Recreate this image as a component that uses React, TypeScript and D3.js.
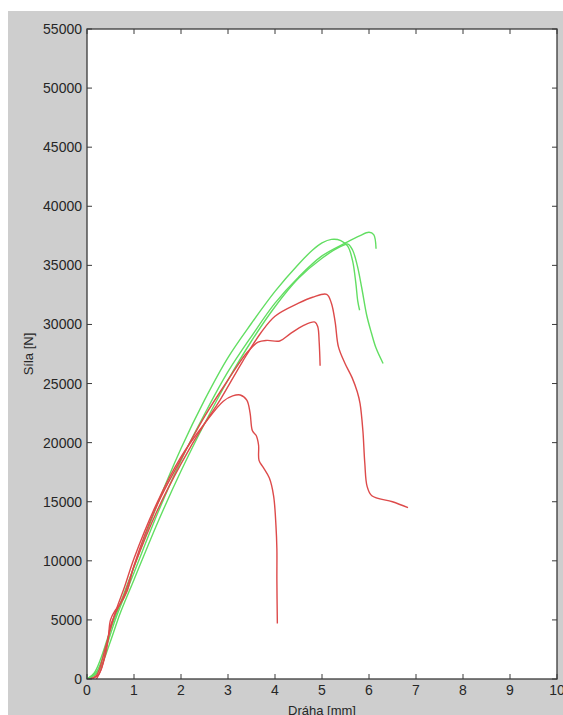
import React from "react";
import * as d3 from "d3";

const xTicks = [0, 1, 2, 3, 4, 5, 6, 7, 8, 9, 10];
const yTicks = [0, 5000, 10000, 15000, 20000, 25000, 30000, 35000, 40000, 45000, 50000, 55000];

type P = [number, number];

const green1: P[] = [
  [0, 0], [0.15, 500], [0.3, 1800], [0.5, 4200], [0.7, 6300], [1.0, 9500], [1.5, 14800],
  [2.0, 19500], [2.5, 23600], [3.0, 27200], [3.5, 30100], [4.0, 32800], [4.5, 35100],
  [4.8, 36300], [5.0, 36900], [5.2, 37200], [5.4, 37100], [5.55, 36600], [5.65, 35400],
  [5.72, 33500], [5.76, 32000], [5.8, 31200],
];
const green2: P[] = [
  [0, 0], [0.2, 600], [0.4, 2600], [0.6, 5000], [1.0, 9000], [1.5, 14000], [2.0, 18500],
  [2.5, 22400], [3.0, 26000], [3.5, 29000], [4.0, 31800], [4.5, 34000], [5.0, 35800],
  [5.5, 36900], [5.8, 37500], [6.0, 37800], [6.1, 37600], [6.15, 36400],
];
const green3: P[] = [
  [0.05, 0], [0.25, 700], [0.5, 3200], [0.7, 5500], [1.0, 8400], [1.5, 13200], [2.0, 17600],
  [2.5, 21600], [3.0, 25300], [3.5, 28600], [4.0, 31500], [4.5, 33900], [5.0, 35600],
  [5.4, 36600], [5.55, 36800], [5.65, 36300], [5.75, 35000], [5.85, 33000], [5.95, 30800],
  [6.05, 29300], [6.15, 28000], [6.3, 26700],
];
const red1: P[] = [
  [0.1, 0], [0.25, 400], [0.4, 2200], [0.5, 4500], [0.6, 5500], [0.8, 7200], [1.0, 9500],
  [1.5, 14300], [2.0, 18200], [2.5, 21600], [2.83, 23600], [3.3, 26800], [3.7, 29300],
  [4.0, 30700], [4.5, 31800], [4.8, 32300], [5.1, 32550], [5.2, 31800], [5.28, 30200],
  [5.35, 28100], [5.49, 26700], [5.64, 25500], [5.75, 24300], [5.81, 23300], [5.87, 21000],
  [5.91, 18300], [5.96, 16300], [6.06, 15500], [6.5, 15000], [6.83, 14500],
];
const red2: P[] = [
  [0.2, 0], [0.3, 800], [0.45, 3500], [0.5, 5000], [0.6, 5800], [0.7, 6300], [0.85, 7400],
  [1.0, 9600], [1.5, 14800], [2.0, 18600], [2.5, 22200], [3.0, 25300], [3.4, 27600],
  [3.64, 28500], [3.83, 28650], [4.1, 28600], [4.32, 29200], [4.6, 29900], [4.85, 30200],
  [4.91, 29800], [4.94, 28500], [4.96, 26500],
];
const red3: P[] = [
  [0.05, 0], [0.2, 300], [0.4, 2800], [0.6, 5600], [0.8, 7800], [1.0, 10200], [1.5, 15000],
  [2.0, 18800], [2.5, 21600], [2.9, 23500], [3.1, 23950], [3.26, 24030], [3.4, 23600],
  [3.47, 22500], [3.52, 21000], [3.6, 20600], [3.65, 19800], [3.66, 18500], [3.75, 17900],
  [3.88, 17000], [3.97, 15500], [4.02, 13000], [4.04, 11000], [4.04, 8400], [4.05, 4700],
];

const series: { data: P[]; color: string }[] = [
  { data: green1, color: "#62de62" },
  { data: green2, color: "#62de62" },
  { data: green3, color: "#62de62" },
  { data: red1, color: "#dd4a4a" },
  { data: red2, color: "#dd4a4a" },
  { data: red3, color: "#dd4a4a" },
];

export default function App() {
  const W = 563, H = 715;
  const left = 87, right = 557, top = 29, bottom = 679;
  const x = d3.scaleLinear().domain([0, 10]).range([left, right]);
  const y = d3.scaleLinear().domain([0, 55000]).range([bottom, top]);
  const line = d3
    .line<P>()
    .x((d) => x(d[0]))
    .y((d) => y(d[1]))
    .curve(d3.curveCatmullRom.alpha(0.5));
  const font = "'Liberation Sans', Arial, sans-serif";
  const txt = "#262626";
  const ax = "#3a3a3a";
  const tl = 5;
  return (
    <svg
      width={W}
      height={H}
      style={{ position: "absolute", left: 0, top: 0, background: "#ffffff" }}
      fontFamily={font}
    >
      <rect x={8} y={11} width={W - 8} height={H - 11} fill="#cecece" />
      <rect x={left} y={top} width={right - left} height={bottom - top} fill="#ffffff" />
      <defs>
        <clipPath id="clip">
          <rect x={left} y={top} width={right - left} height={bottom - top} />
        </clipPath>
      </defs>
      <g clipPath="url(#clip)">
        {series.map((s, i) => (
          <path key={i} d={line(s.data) || ""} fill="none" stroke={s.color} strokeWidth={1.4} strokeLinejoin="round" />
        ))}
      </g>
      {xTicks.map((t) => (
        <g key={"x" + t}>
          <line x1={x(t)} x2={x(t)} y1={bottom} y2={bottom - tl} stroke={ax} strokeWidth={1} />
          <line x1={x(t)} x2={x(t)} y1={top} y2={top + tl} stroke={ax} strokeWidth={1} />
          <text x={x(t)} y={695} textAnchor="middle" fontSize={14} fill={txt}>
            {t}
          </text>
        </g>
      ))}
      {yTicks.map((t) => (
        <g key={"y" + t}>
          <line x1={left} x2={left + tl} y1={y(t)} y2={y(t)} stroke={ax} strokeWidth={1} />
          <line x1={right} x2={right - tl} y1={y(t)} y2={y(t)} stroke={ax} strokeWidth={1} />
          <text x={82} y={y(t) + 5} textAnchor="end" fontSize={14} fill={txt}>
            {t}
          </text>
        </g>
      ))}
      <rect x={left} y={top} width={right - left} height={bottom - top} fill="none" stroke={ax} strokeWidth={1.3} />
      <text x={322} y={715} textAnchor="middle" fontSize={13} fill={txt}>
        Dráha [mm]
      </text>
      <text
        transform={`translate(33, 354) rotate(-90)`}
        textAnchor="middle"
        fontSize={13}
        fill={txt}
      >
        Síla [N]
      </text>
    </svg>
  );
}
